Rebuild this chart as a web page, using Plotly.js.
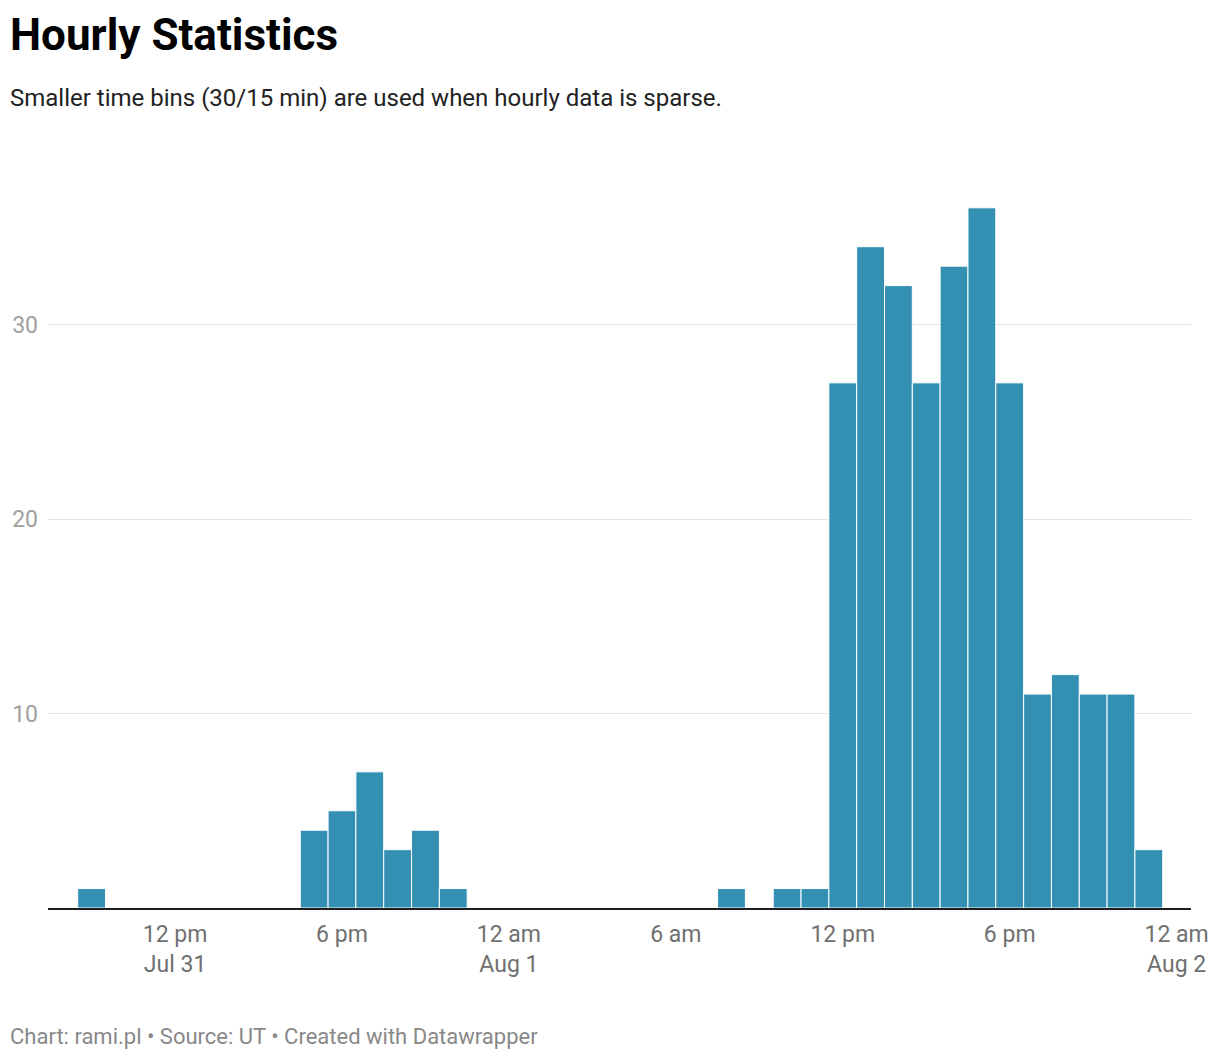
<!DOCTYPE html>
<html>
<head>
<meta charset="utf-8">
<script src="https://cdn.plot.ly/plotly-3.0.1.min.js"></script>
<style>
  html, body { margin: 0; padding: 0; background: #fff; }
  #chart { width: 1220px; height: 1060px; }
</style>
</head>
<body>
<div id="chart"></div>
<script>
// Start of each hourly bin (bars are centred on the hour)
var hours = [
    '2024-07-31 09:00', '2024-07-31 17:00', '2024-07-31 18:00', '2024-07-31 19:00',
    '2024-07-31 20:00', '2024-07-31 21:00', '2024-07-31 22:00',
    '2024-08-01 08:00', '2024-08-01 10:00', '2024-08-01 11:00', '2024-08-01 12:00',
    '2024-08-01 13:00', '2024-08-01 14:00', '2024-08-01 15:00', '2024-08-01 16:00',
    '2024-08-01 17:00', '2024-08-01 18:00', '2024-08-01 19:00', '2024-08-01 20:00',
    '2024-08-01 21:00', '2024-08-01 22:00', '2024-08-01 23:00'
];
var counts = [1, 4, 5, 7, 3, 4, 1, 1, 1, 1, 27, 34, 32, 27, 33, 36, 27, 11, 12, 11, 11, 3];

// Axis ticks
var xTickVals = ['2024-07-31 12:00', '2024-07-31 18:00', '2024-08-01 00:00', '2024-08-01 06:00',
                 '2024-08-01 12:00', '2024-08-01 18:00', '2024-08-02 00:00'];
var xTickText = ['12 pm<br>Jul 31', '6 pm', '12 am<br>Aug 1', '6 am', '12 pm', '6 pm', '12 am<br>Aug 2'];
var yTickVals = [10, 20, 30];
var yTickText = ['10', '20', '30'];

var trace = {
    x: hours,
    y: counts,
    type: 'bar',
    width: hours.map(function () { return 3600000; }), // one hour
    marker: {
        color: '#3490b3',
        line: { color: '#ffffff', width: 1 }
    },
    hoverinfo: 'x+y'
};

var font = 'Roboto, "Noto Sans", Arial, sans-serif';

var layout = {
    width: 1220,
    height: 1060,
    margin: { l: 48, r: 29, t: 130, b: 152 },
    paper_bgcolor: '#ffffff',
    plot_bgcolor: '#ffffff',
    showlegend: false,
    bargap: 0,
    font: { family: font, size: 23, color: '#707070' },
    xaxis: {
        type: 'date',
        range: ['2024-07-31 07:26', '2024-08-02 00:31'],
        tickvals: xTickVals,
        ticktext: xTickText,
        tickfont: { family: font, size: 23, color: '#707070' },
        showgrid: false,
        zeroline: false,
        showline: true,
        linecolor: '#1d1d1d',
        linewidth: 2,
        ticks: '',
        ticklabelstandoff: 4
    },
    yaxis: {
        range: [0, 40],
        tickvals: yTickVals,
        ticktext: yTickText,
        tickfont: { family: font, size: 23, color: '#a0a0a0' },
        showgrid: true,
        gridcolor: '#e3e3e3',
        gridwidth: 1,
        zeroline: false,
        showline: false,
        ticks: '',
        ticklabelstandoff: 9
    },
    annotations: [
        {
            text: '<b>Hourly Statistics</b>',
            xref: 'paper', yref: 'paper',
            x: -0.035, y: (908 - 7) / 778,
            xanchor: 'left', yanchor: 'top',
            showarrow: false,
            font: { family: font, size: 44, color: '#000000' }
        },
        {
            text: 'Smaller time bins (30/15 min) are used when hourly data is sparse.',
            xref: 'paper', yref: 'paper',
            x: -0.035, y: (908 - 82) / 778,
            xanchor: 'left', yanchor: 'top',
            showarrow: false,
            font: { family: font, size: 24, color: '#222222' }
        },
        {
            text: 'Chart: rami.pl \u2022 Source: UT \u2022 Created with Datawrapper',
            xref: 'paper', yref: 'paper',
            x: -0.035, y: (908 - 1022) / 778,
            xanchor: 'left', yanchor: 'top',
            showarrow: false,
            font: { family: font, size: 22, color: '#888888' }
        }
    ]
};

Plotly.newPlot('chart', [trace], layout, { displayModeBar: false, staticPlot: true });
</script>
</body>
</html>
